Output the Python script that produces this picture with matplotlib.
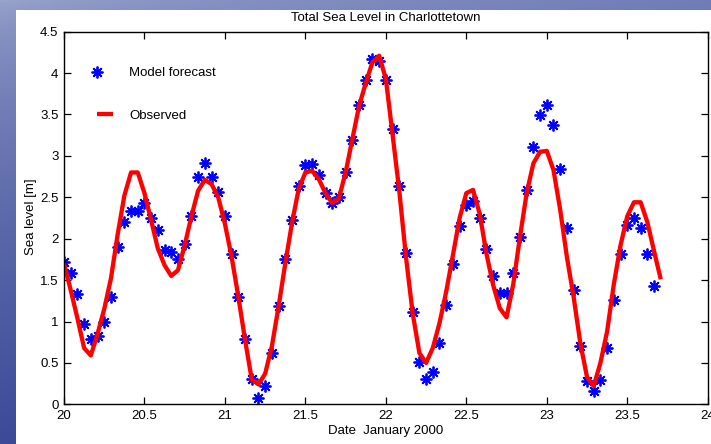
import numpy as np
import matplotlib
matplotlib.use("Agg")
import matplotlib.pyplot as plt
from matplotlib.patches import Rectangle
from matplotlib.legend_handler import HandlerLine2D

plt.rcParams['font.family'] = ['Liberation Sans', 'DejaVu Sans']

# Hourly samples starting at 20 January 2000, 00:00 (time in days)
forecast_hours = list(range(0, 89))
forecast = [1.72, 1.59, 1.33, 0.97, 0.79, 0.83, 0.99, 1.29, 1.90, 2.20,
            2.34, 2.34, 2.43, 2.25, 2.10, 1.86, 1.84, 1.75, 1.94, 2.27,
            2.75, 2.92, 2.74, 2.57, 2.27, 1.82, 1.29, 0.785, 0.31, 0.08,
            0.22, 0.62, 1.19, 1.75, 2.22, 2.64, 2.89, 2.90, 2.77, 2.55,
            2.43, 2.50, 2.81, 3.19, 3.61, 3.92, 4.17, 4.15, 3.92, 3.33,
            2.64, 1.83, 1.12, 0.515, 0.305, 0.385, 0.735, 1.20, 1.70, 2.15,
            2.41, 2.46, 2.25, 1.875, 1.55, 1.35, 1.35, 1.58, 2.02, 2.59,
            3.11, 3.49, 3.61, 3.37, 2.84, 2.13, 1.38, 0.71, 0.285, 0.165,
            0.29, 0.675, 1.26, 1.815, 2.17, 2.25, 2.13, 1.82, 1.43]

observed_hours = list(range(0, 90))
observed = [1.70, 1.38, 1.04, 0.68, 0.59, 0.85, 1.15, 1.52, 2.05, 2.52,
            2.80, 2.80, 2.55, 2.22, 1.88, 1.68, 1.55, 1.62, 1.92, 2.27,
            2.58, 2.71, 2.66, 2.50, 2.18, 1.78, 1.30, 0.78, 0.30, 0.24,
            0.37, 0.70, 1.18, 1.70, 2.19, 2.60, 2.80, 2.82, 2.72, 2.55,
            2.43, 2.49, 2.80, 3.20, 3.60, 3.88, 4.13, 4.21, 3.93, 3.26,
            2.58, 1.78, 1.10, 0.62, 0.50, 0.68, 0.98, 1.36, 1.80, 2.25,
            2.55, 2.59, 2.30, 1.82, 1.44, 1.16, 1.05, 1.45, 2.02, 2.55,
            2.91, 3.05, 3.06, 2.83, 2.35, 1.78, 1.30, 0.74, 0.33, 0.22,
            0.50, 0.88, 1.45, 1.92, 2.27, 2.44, 2.44, 2.20, 1.85, 1.51]

start_day = 20.0
xticks = [20, 20.5, 21, 21.5, 22, 22.5, 23, 23.5, 24]
xtick_labels = ["20", "20.5", "21", "21.5", "22", "22.5", "23", "23.5", "24"]
yticks = [0, 0.5, 1, 1.5, 2, 2.5, 3, 3.5, 4, 4.5]
ytick_labels = ["0", "0.5", "1", "1.5", "2", "2.5", "3", "3.5", "4", "4.5"]

t_fc = start_day + np.array(forecast_hours) / 24.0
t_ob = start_day + np.array(observed_hours) / 24.0

W, H = 711, 444
fig = plt.figure(figsize=(W / 100, H / 100), dpi=100)

# slide background (blue gradient)
bg = fig.add_axes([0, 0, 1, 1], zorder=-10)
bg.set_axis_off()
gy = np.linspace(0, 1, 200)[:, None]
gx = np.linspace(0, 1, 200)[None, :]
top = np.array([155, 165, 205]) / 255
bot = np.array([45, 62, 145]) / 255
mix = np.clip(gy * 0.8 + gx * 0.2, 0, 1)[..., None] ** 0.6
img = top * (1 - mix) + bot * mix
bg.imshow(img, aspect='auto', extent=[0, 1, 0, 1], origin='upper')
bg.set_xlim(0, 1)
bg.set_ylim(0, 1)
bg.add_patch(Rectangle((16 / W, 0), 1 - 16 / W, 1 - 10 / H,
                       transform=bg.transAxes, facecolor='white',
                       edgecolor='none'))

ax = fig.add_axes([64 / W, (H - 404.3) / H, 643.7 / W, 372.6 / H])
fc_line, = ax.plot(t_fc, forecast, linestyle='none', marker=(8, 2, 0),
                   markersize=8.5, markeredgewidth=1.3, color='#0000ff',
                   label='Model forecast')
ob_line, = ax.plot(t_ob, observed, color='#ff0000', linewidth=3.1,
                   solid_joinstyle='round', solid_capstyle='butt',
                   label='Observed')

ax.set_xlim(20, 24)
ax.set_ylim(0, 4.5)
ax.set_xticks(xticks)
ax.set_xticklabels(xtick_labels)
ax.set_yticks(yticks)
ax.set_yticklabels(ytick_labels)
ax.tick_params(direction='in', top=True, right=True, length=5, width=0.9,
               labelsize=9.5, pad=4, colors='black')
for s in ax.spines.values():
    s.set_linewidth(1.0)
    s.set_color('black')

ax.set_title('Total Sea Level in Charlottetown', fontsize=9.5, pad=7.5)
ax.set_xlabel('Date  January 2000', fontsize=9.5, labelpad=2)
ax.set_ylabel('Sea level [m]', fontsize=9.5)
ax.yaxis.set_label_coords(-0.042, 0.503)


class LeftMarkerHandler(HandlerLine2D):
    # marker drawn at the left end of the legend handle (line is invisible)
    def get_xdata(self, legend, xdescent, ydescent, width, height, fontsize):
        xdata = [-xdescent - width * 0.9, -xdescent + width * 0.9]
        return xdata, [-xdescent]


ax.legend(handles=[fc_line, ob_line], loc='upper left',
          bbox_to_anchor=(0.051, 0.905), frameon=False,
          borderaxespad=0, borderpad=0, handlelength=1.25,
          handletextpad=1.2, labelspacing=2.3, fontsize=9.5, numpoints=1,
          handler_map={fc_line: LeftMarkerHandler(numpoints=1)})

fig.savefig('out.png', dpi=100, facecolor=fig.get_facecolor())
